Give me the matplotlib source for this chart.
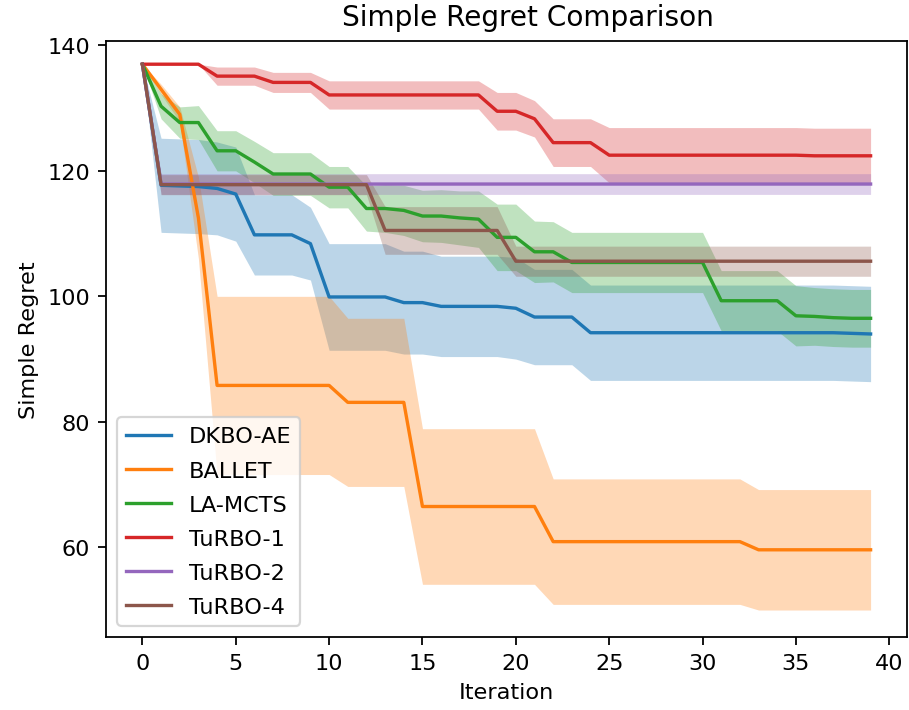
import numpy as np
import matplotlib
matplotlib.use("Agg")
import matplotlib.pyplot as plt

# Valeurs (moyenne et écart-type par itération)
iterations = list(range(40))

dkbo_mean = [137.0, 117.7, 117.6, 117.5, 117.2, 116.3, 109.8, 109.8, 109.8, 108.4,
             99.9, 99.9, 99.9, 99.9, 99.0, 99.0, 98.4, 98.4, 98.4, 98.4,
             98.1, 96.7, 96.7, 96.7, 94.2, 94.2, 94.2, 94.2, 94.2, 94.2,
             94.2, 94.2, 94.2, 94.2, 94.2, 94.2, 94.2, 94.2, 94.1, 94.0]
dkbo_std = [0.0, 7.5, 7.5, 7.5, 7.4, 7.5, 6.4, 6.4, 6.4, 5.8,
            8.5, 8.5, 8.5, 8.5, 8.2, 8.2, 8.0, 8.0, 8.0, 8.0,
            8.1, 7.6, 7.6, 7.6, 7.6, 7.6, 7.6, 7.6, 7.6, 7.6,
            7.6, 7.6, 7.6, 7.6, 7.6, 7.6, 7.6, 7.6, 7.6, 7.6]

ballet_mean = [137.0, 133.0, 129.0, 112.5, 85.8, 85.8, 85.8, 85.8, 85.8, 85.8,
               85.8, 83.1, 83.1, 83.1, 83.1, 66.5, 66.5, 66.5, 66.5, 66.5,
               66.5, 66.5, 60.9, 60.9, 60.9, 60.9, 60.9, 60.9, 60.9, 60.9,
               60.9, 60.9, 60.9, 59.6, 59.6, 59.6, 59.6, 59.6, 59.6, 59.6]
ballet_std = [0.0, 0.8, 1.2, 6.5, 14.2, 14.2, 14.2, 14.2, 14.2, 14.2,
              14.2, 13.4, 13.4, 13.4, 13.4, 12.4, 12.4, 12.4, 12.4, 12.4,
              12.4, 12.4, 10.0, 10.0, 10.0, 10.0, 10.0, 10.0, 10.0, 10.0,
              10.0, 10.0, 10.0, 9.6, 9.6, 9.6, 9.6, 9.6, 9.6, 9.6]

lamcts_mean = [137.0, 130.3, 127.7, 127.7, 123.2, 123.2, 121.4, 119.5, 119.5, 119.5,
               117.4, 117.4, 114.0, 114.0, 113.7, 112.8, 112.8, 112.5, 112.3, 109.4,
               109.4, 107.1, 107.1, 105.4, 105.4, 105.4, 105.4, 105.4, 105.4, 105.4,
               105.4, 99.3, 99.3, 99.3, 99.3, 96.9, 96.8, 96.6, 96.5, 96.5]
lamcts_std = [0.0, 2.0, 2.5, 2.7, 3.2, 3.2, 3.3, 3.4, 3.4, 3.4,
              3.3, 3.3, 3.6, 3.8, 4.0, 4.1, 4.2, 4.3, 4.5, 5.3,
              5.3, 4.9, 4.8, 4.8, 4.8, 4.8, 4.8, 4.8, 4.8, 4.8,
              4.8, 4.8, 4.8, 4.8, 4.8, 4.8, 4.6, 4.6, 4.6, 4.6]

turbo1_mean = [137.0, 137.0, 137.0, 137.0, 135.1, 135.1, 135.1, 134.1, 134.1, 134.1,
               132.1, 132.1, 132.1, 132.1, 132.1, 132.1, 132.1, 132.1, 132.1, 129.5,
               129.5, 128.3, 124.5, 124.5, 124.5, 122.5, 122.5, 122.5, 122.5, 122.5,
               122.5, 122.5, 122.5, 122.5, 122.5, 122.5, 122.4, 122.4, 122.4, 122.4]
turbo1_std = [0.0, 0.0, 0.0, 0.0, 1.45, 1.45, 1.45, 1.6, 1.6, 1.6,
              2.25, 2.25, 2.25, 2.25, 2.25, 2.25, 2.25, 2.25, 2.25, 3.0,
              3.0, 2.9, 3.8, 3.8, 3.8, 4.4, 4.4, 4.4, 4.4, 4.4,
              4.4, 4.4, 4.4, 4.4, 4.4, 4.4, 4.4, 4.4, 4.4, 4.4]

turbo2_mean = [137.0, 117.9, 117.9, 117.9, 117.9, 117.9, 117.9, 117.9, 117.9, 117.9,
               117.9, 117.9, 117.9, 117.9, 117.9, 117.9, 117.9, 117.9, 117.9, 117.9,
               117.9, 117.9, 117.9, 117.9, 117.9, 117.9, 117.9, 117.9, 117.9, 117.9,
               117.9, 117.9, 117.9, 117.9, 117.9, 117.9, 117.9, 117.9, 117.9, 117.9]
turbo2_std = [0.0, 1.65, 1.65, 1.65, 1.65, 1.65, 1.65, 1.65, 1.65, 1.65,
              1.65, 1.65, 1.65, 1.65, 1.65, 1.65, 1.65, 1.65, 1.65, 1.65,
              1.65, 1.65, 1.65, 1.65, 1.65, 1.65, 1.65, 1.65, 1.65, 1.65,
              1.65, 1.65, 1.65, 1.65, 1.65, 1.65, 1.65, 1.65, 1.65, 1.65]

turbo4_mean = [137.0, 117.8, 117.8, 117.8, 117.8, 117.8, 117.8, 117.8, 117.8, 117.8,
               117.8, 117.8, 117.8, 110.5, 110.5, 110.5, 110.5, 110.5, 110.5, 110.5,
               105.6, 105.6, 105.6, 105.6, 105.6, 105.6, 105.6, 105.6, 105.6, 105.6,
               105.6, 105.6, 105.6, 105.6, 105.6, 105.6, 105.6, 105.6, 105.6, 105.6]
turbo4_std = [0.0, 1.6, 1.6, 1.6, 1.6, 1.6, 1.6, 1.6, 1.6, 1.6,
              1.6, 1.6, 1.6, 3.8, 3.8, 3.8, 3.8, 3.8, 3.8, 3.8,
              2.4, 2.4, 2.4, 2.4, 2.4, 2.4, 2.4, 2.4, 2.4, 2.4,
              2.4, 2.4, 2.4, 2.4, 2.4, 2.4, 2.4, 2.4, 2.4, 2.4]

methods = ["DKBO-AE", "BALLET", "LA-MCTS", "TuRBO-1", "TuRBO-2", "TuRBO-4"]
means = [dkbo_mean, ballet_mean, lamcts_mean, turbo1_mean, turbo2_mean, turbo4_mean]
stds = [dkbo_std, ballet_std, lamcts_std, turbo1_std, turbo2_std, turbo4_std]
colors = ["tab:blue", "tab:orange", "tab:green", "tab:red", "tab:purple", "tab:brown"]

dpi = 161
fig = plt.figure(figsize=(909 / dpi, 711 / dpi), dpi=dpi)
ax = fig.add_axes([106 / 909, 73 / 711, 801 / 909, 596 / 711])

x = np.array(iterations)
for name, m, s, c in zip(methods, means, stds, colors):
    m = np.array(m)
    s = np.array(s)
    ax.plot(x, m, color=c, label=name)
    ax.fill_between(x, m - s, m + s, color=c, alpha=0.3, linewidth=0)

ax.set_xlim(-1.95, 40.95)
ax.set_ylim(45.7, 140.7)
ax.set_title("Simple Regret Comparison", fontsize=12.5, x=0.527, pad=7)
ax.set_xlabel("Iteration")
ax.set_ylabel("Simple Regret")
ax.legend(loc="lower left", labelspacing=0.63)

fig.savefig("out.png", dpi=dpi)
